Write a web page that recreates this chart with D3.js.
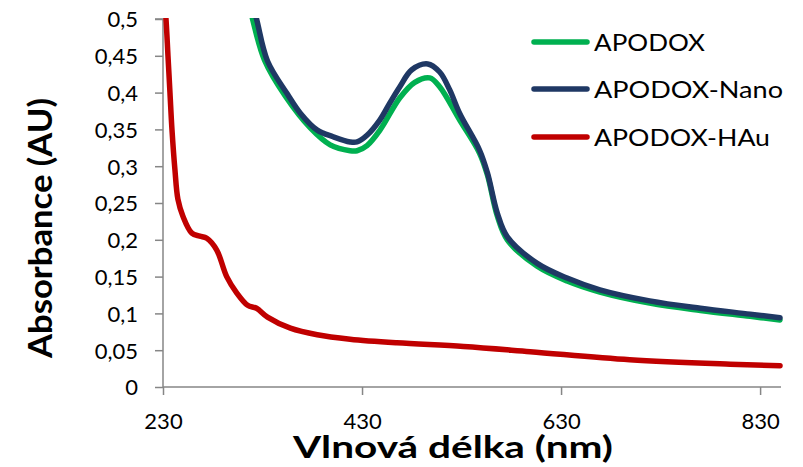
<!DOCTYPE html>
<html>
<head>
<meta charset="utf-8">
<script src="https://cdn.jsdelivr.net/npm/d3@7/dist/d3.min.js"></script>
<style>
  html, body { margin: 0; padding: 0; background: #fff; }
  svg { display: block; }
  text { font-family: Lato, "Open Sans", sans-serif; fill: #000; }
</style>
</head>
<body>
<svg id="chart" width="803" height="467"></svg>
<script>
// ---- Data ----
const seriesNames = ["APODOX", "APODOX-Nano", "APODOX-HAu"];
const seriesColors = ["#00B050", "#1F3864", "#C00000"];

const apodoxNm   = [315, 320, 332, 353, 378, 398, 418, 425, 435, 448, 468, 483, 498, 508, 528, 548, 556, 566, 576, 606, 636, 669, 719, 770, 820, 850];
const apodoxAbs  = [0.53, 0.50, 0.444, 0.395, 0.352, 0.329, 0.321, 0.321, 0.328, 0.349, 0.393, 0.414, 0.420, 0.408, 0.363, 0.318, 0.288, 0.232, 0.200, 0.164, 0.144, 0.129, 0.114, 0.104, 0.096, 0.091];

const nanoNm     = [318, 324, 335, 355, 368, 385, 401, 418, 425, 435, 448, 458, 468, 480, 496, 508, 518, 528, 548, 556, 566, 576, 606, 636, 669, 719, 770, 820, 850];
const nanoAbs    = [0.53, 0.50, 0.443, 0.398, 0.372, 0.349, 0.340, 0.333, 0.333, 0.342, 0.363, 0.386, 0.408, 0.431, 0.439, 0.428, 0.404, 0.372, 0.322, 0.291, 0.236, 0.204, 0.168, 0.148, 0.132, 0.117, 0.107, 0.099, 0.094];

const hauNm      = [230, 233, 235, 237, 239, 242, 245, 250, 259, 267, 274, 284, 294, 304, 315, 324, 335, 358, 385, 418, 465, 532, 599, 699, 800, 850];
const hauAbs     = [0.55, 0.50, 0.45, 0.40, 0.35, 0.295, 0.255, 0.232, 0.209, 0.205, 0.202, 0.186, 0.150, 0.128, 0.111, 0.107, 0.095, 0.080, 0.071, 0.065, 0.060, 0.055, 0.048, 0.037, 0.031, 0.029];

const xTickValues = [230, 430, 630, 830];
const yTickValues = [0, 0.05, 0.1, 0.15, 0.2, 0.25, 0.3, 0.35, 0.4, 0.45, 0.5];
const xTitle = "Vlnová délka (nm)";
const yTitle = "Absorbance (AU)";

// ---- Layout ----
const svg = d3.select("#chart");
const mLeft = 163, mRight = 781, mTop = 19, mBottom = 387;

const x = d3.scaleLinear().domain([230, 851]).range([mLeft, mRight]);
const y = d3.scaleLinear().domain([0, 0.5]).range([mBottom, mTop]);

const axisColor = "#868686";
const fmt = v => String(v).replace(".", ",");

// Y axis
const yAxis = svg.append("g")
  .attr("transform", `translate(${mLeft},0)`)
  .call(d3.axisLeft(y).tickValues(yTickValues).tickSize(8).tickFormat(fmt));
yAxis.select(".domain").attr("stroke", axisColor).attr("stroke-width", 1.5)
  .attr("d", `M-8,${mTop}H0V${mBottom}`);
yAxis.selectAll(".tick line").attr("stroke", axisColor).attr("stroke-width", 1.5);
yAxis.selectAll(".tick text")
  .attr("x", -25).attr("dy", "0.36em")
  .style("font-size", "22px").style("font-family", "Lato, 'Open Sans', sans-serif").attr("fill", "#000");

// X axis
const xAxis = svg.append("g")
  .attr("transform", `translate(0,${mBottom})`)
  .call(d3.axisBottom(x).tickValues(xTickValues).tickSize(8).tickFormat(d3.format("d")));
xAxis.select(".domain").attr("stroke", axisColor).attr("stroke-width", 1.5)
  .attr("d", `M${mLeft},0H${mRight}`);
xAxis.selectAll(".tick line").attr("stroke", axisColor).attr("stroke-width", 1.5);
xAxis.selectAll(".tick text")
  .attr("y", 42).attr("dy", "0")
  .style("font-size", "22px").style("font-family", "Lato, 'Open Sans', sans-serif").attr("fill", "#000");

// Clip
svg.append("defs").append("clipPath").attr("id", "plotClip")
  .append("rect").attr("x", mLeft).attr("y", mTop - 1).attr("width", mRight - mLeft + 6).attr("height", mBottom - mTop + 1);

const line = d3.line()
  .x(d => x(d[0])).y(d => y(d[1]))
  .curve(d3.curveCatmullRom.alpha(0.5));

const seriesData = [
  d3.zip(apodoxNm, apodoxAbs),
  d3.zip(nanoNm, nanoAbs),
  d3.zip(hauNm, hauAbs)
];

const plot = svg.append("g").attr("clip-path", "url(#plotClip)");
seriesData.forEach((data, i) => {
  plot.append("path")
    .datum(data)
    .attr("d", line)
    .attr("fill", "none")
    .attr("stroke", seriesColors[i])
    .attr("stroke-width", 5.5)
    .attr("stroke-linecap", "round")
    .attr("stroke-linejoin", "round");
});

// Legend
const legendY = [42, 89, 137];
const legendWidths = [111, 189, 176];
const legend = svg.append("g");
seriesNames.forEach((name, i) => {
  legend.append("line")
    .attr("x1", 534).attr("x2", 587)
    .attr("y1", legendY[i]).attr("y2", legendY[i])
    .attr("stroke", seriesColors[i]).attr("stroke-width", 5.5)
    .attr("stroke-linecap", "round");
  legend.append("text")
    .attr("x", 594).attr("y", legendY[i] + 9)
    .attr("textLength", legendWidths[i]).attr("lengthAdjust", "spacingAndGlyphs")
    .style("font-size", "24px")
    .text(name);
});

// Axis titles
svg.append("text")
  .attr("x", 453).attr("y", 458)
  .attr("text-anchor", "middle")
  .attr("textLength", 320).attr("lengthAdjust", "spacingAndGlyphs")
  .style("font-size", "31px").style("font-weight", "bold")
  .text(xTitle);

svg.append("text")
  .attr("transform", "translate(52,228) rotate(-90)")
  .attr("text-anchor", "middle")
  .attr("textLength", 260).attr("lengthAdjust", "spacingAndGlyphs")
  .style("font-size", "32px").style("font-weight", "bold")
  .text(yTitle);
</script>
</body>
</html>
